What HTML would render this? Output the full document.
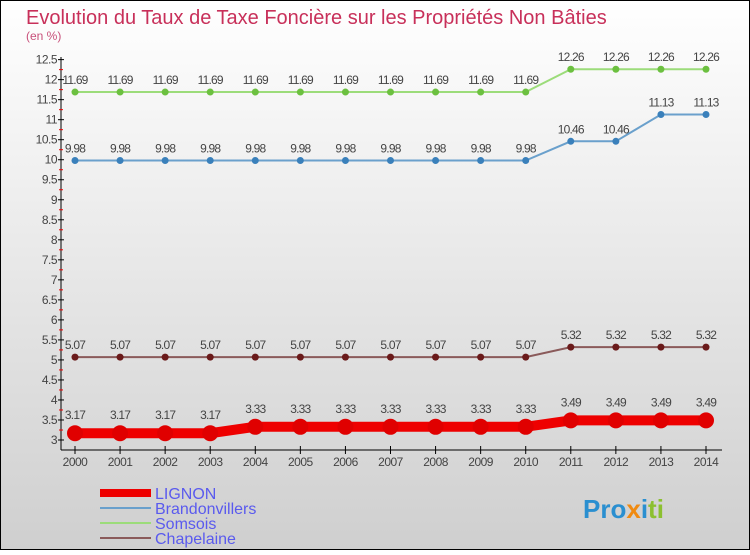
<!DOCTYPE html>
<html><head><meta charset="utf-8"><style>
html,body{margin:0;padding:0}
body{width:750px;height:550px;overflow:hidden;font-family:"Liberation Sans",sans-serif}
</style></head><body>
<svg width="750" height="550" xmlns="http://www.w3.org/2000/svg">
<defs><linearGradient id="bg" x1="0" y1="0" x2="0" y2="1"><stop offset="0" stop-color="#ffffff"/><stop offset="1" stop-color="#cfcfcf"/></linearGradient></defs>
<rect x="0.5" y="0.5" width="749" height="549" fill="url(#bg)" stroke="#000"/>
<text x="26" y="24" font-size="20" fill="#c8305a">Evolution du Taux de Taxe Foncière sur les Propriétés Non Bâties</text>
<text x="26" y="40" font-size="12" fill="#c8507a">(en %)</text>
<g id="axes"></g><g id="series"></g><g id="legend"></g>
<text x="583" y="518" font-size="26" font-weight="bold"><tspan fill="#2a8fd0">Pro</tspan><tspan fill="#f08a10">x</tspan><tspan fill="#2a8fd0">i</tspan><tspan fill="#8cc030">ti</tspan></text>
</svg>
<script>
const years=[2000,2001,2002,2003,2004,2005,2006,2007,2008,2009,2010,2011,2012,2013,2014];
const lignon=[3.17,3.17,3.17,3.17,3.33,3.33,3.33,3.33,3.33,3.33,3.33,3.49,3.49,3.49,3.49];
const brandonvillers=[9.98,9.98,9.98,9.98,9.98,9.98,9.98,9.98,9.98,9.98,9.98,10.46,10.46,11.13,11.13];
const somsois=[11.69,11.69,11.69,11.69,11.69,11.69,11.69,11.69,11.69,11.69,11.69,12.26,12.26,12.26,12.26];
const chapelaine=[5.07,5.07,5.07,5.07,5.07,5.07,5.07,5.07,5.07,5.07,5.07,5.32,5.32,5.32,5.32];
const yTicks=[3,3.5,4,4.5,5,5.5,6,6.5,7,7.5,8,8.5,9,9.5,10,10.5,11,11.5,12,12.5];
const NS="http://www.w3.org/2000/svg";
const X=i=>75+i*(706-75)/(years.length-1);
const Y=v=>440-(v-3)*40.04;
function mk(tag,attrs,parent,txt){const e=document.createElementNS(NS,tag);for(const k in attrs)e.setAttribute(k,attrs[k]);if(txt!==undefined)e.textContent=txt;parent.appendChild(e);return e;}
const ax=document.getElementById('axes');
let e=mk('line',{x1:61,y1:57,x2:61,y2:450,stroke:'#000'},ax);


e=mk('line',{x1:61,y1:450,x2:722,y2:450,stroke:'#000'},ax);


yTicks.forEach(v=>{
  mk('line',{x1:58,y1:Y(v),x2:64,y2:Y(v),stroke:'#000'},ax);
  if(v<12.5) mk('line',{x1:59,y1:Y(v+0.25),x2:63,y2:Y(v+0.25),stroke:'#e00'},ax);
  const t=mk('text',{x:57,y:Y(v)+4,'font-size':12,fill:'#444','text-anchor':'end','letter-spacing':'-0.5'},ax,String(v));
  
  
});
years.forEach((yr,i)=>{
  mk('line',{x1:X(i),y1:446,x2:X(i),y2:454,stroke:'#000'},ax);
  const t=mk('text',{x:X(i),y:466,'font-size':12,fill:'#444','text-anchor':'middle','letter-spacing':'-0.5'},ax,String(yr));
  
  
});
const series=[
 {name:'Brandonvillers',data:brandonvillers,color:'#6aa0cc',pt:'#3a80bb',w:2,r:3.5},
 {name:'Somsois',data:somsois,color:'#9cdc7a',pt:'#6cc040',w:2,r:3.5},
 {name:'Chapelaine',data:chapelaine,color:'#8a5a5a',pt:'#6a1a1a',w:2,r:3.5},
 {name:'LIGNON',data:lignon,color:'#ee0000',pt:'#e00000',w:10,r:8}
];
const sg=document.getElementById('series');
series.forEach(s=>{
  const g=mk('g',{},sg);
  
  
  const p=mk('polyline',{points:s.data.map((v,i)=>X(i)+','+Y(v)).join(' '),fill:'none',stroke:s.color,'stroke-width':s.w},g);
  
  
  s.data.forEach((v,i)=>{
    const c=mk('circle',{cx:X(i),cy:Y(v),r:s.r,fill:s.pt},g);
    
    
    const t=mk('text',{x:X(i),y:Y(v)-(s.r>5?14:8),'font-size':12,fill:'#444','text-anchor':'middle','letter-spacing':'-0.8'},g,String(v));
    
    
  });
});
const lg=document.getElementById('legend');
const leg=[['LIGNON','#ee0000',8],['Brandonvillers','#6aa0cc',2],['Somsois','#9cdc7a',2],['Chapelaine','#8a5a5a',2]];
leg.forEach((l,i)=>{
  const y=493+i*15;
  const g=mk('g',{},lg);
  
  
  mk('line',{x1:100,y1:y,x2:151,y2:y,stroke:l[1],'stroke-width':l[2]},g);
  mk('text',{x:155,y:y+6,'font-size':16,fill:'#5a5aee'},g,l[0]);
});
</script>
</body></html>
